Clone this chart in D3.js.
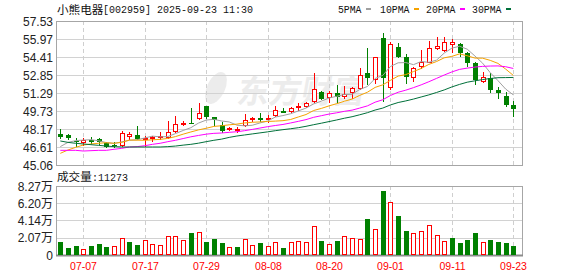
<!DOCTYPE html>
<html>
<head>
<meta charset="utf-8">
<title>小熊电器 K线</title>
<script src="https://cdn.jsdelivr.net/npm/d3@7"></script>
<style>
  body { margin: 0; background: #fff; }
  svg { display: block; }
</style>
</head>
<body>
<svg width="578" height="276" id="mainsvg"></svg>
<script>
// trading days shown on the chart (2025-07-02 .. 2025-09-23)
const DATES = [
  '07-02','07-03','07-04','07-07','07-08','07-09','07-10','07-11','07-14','07-15',
  '07-16','07-17','07-18','07-21','07-22','07-23','07-24','07-25','07-28','07-29',
  '07-30','07-31','08-01','08-04','08-05','08-06','08-07','08-08','08-11','08-12',
  '08-13','08-14','08-15','08-18','08-19','08-20','08-21','08-22','08-25','08-26',
  '08-27','08-28','08-29','09-01','09-02','09-03','09-04','09-05','09-08','09-09',
  '09-10','09-11','09-12','09-15','09-16','09-17','09-18','09-19','09-22','09-23'
];
const OPEN = [
  47.74,47.66,47.14,46.99,47.22,47.31,46.96,46.82,46.71,47.48,
  47.63,47.20,47.31,47.37,47.43,47.95,48.64,48.72,49.01,50.17,
  49.22,48.49,48.09,48.03,48.44,48.96,49.10,48.96,49.30,49.73,
  49.68,50.05,50.11,50.49,51.41,50.83,51.27,50.98,51.27,51.61,
  53.05,52.40,56.03,51.75,55.31,54.38,52.56,53.58,53.92,55.10,
  54.95,55.42,55.50,54.79,53.86,52.27,52.62,51.55,51.03,50.26
];
const HIGH = [
  48.21,47.74,47.43,47.37,47.48,47.43,47.08,47.02,47.97,47.94,
  48.44,47.57,47.60,47.89,48.87,49.30,48.90,50.00,50.46,50.20,
  49.22,48.78,48.38,48.38,49.48,49.24,49.59,49.36,50.17,50.02,
  50.05,50.40,50.51,53.05,51.44,51.50,52.00,51.90,51.84,53.43,
  55.16,54.44,56.46,55.74,55.60,54.70,53.58,55.02,55.82,56.17,
  56.17,55.95,55.60,54.87,54.00,53.14,53.00,51.84,51.41,50.60
];
const LOW = [
  47.31,47.22,46.65,46.73,46.85,46.79,46.50,46.56,46.65,47.22,
  47.22,46.60,47.08,47.22,47.31,47.80,48.44,48.64,48.96,49.01,
  48.44,47.86,47.97,47.86,48.38,48.81,48.75,48.67,49.24,49.59,
  49.59,49.76,49.97,50.40,50.69,50.45,50.45,50.75,50.75,51.55,
  51.99,52.10,50.50,51.55,54.30,52.10,52.27,53.34,53.86,55.02,
  54.87,54.80,54.44,53.58,51.99,52.13,51.27,50.75,50.05,49.24
];
const CLOSE = [
  47.46,47.43,47.05,47.22,47.08,47.02,46.62,46.71,47.86,47.77,
  47.31,47.37,47.48,47.57,47.89,48.58,48.72,48.69,49.59,49.19,
  48.93,47.97,48.29,48.15,48.93,49.16,48.96,49.16,49.82,49.59,
  49.97,50.17,50.40,51.64,50.75,51.32,50.92,51.21,51.70,52.85,
  52.62,54.38,52.57,55.54,54.44,52.70,53.49,53.95,55.16,55.39,
  55.74,55.68,54.73,53.92,52.42,52.65,51.55,51.32,50.26,49.88
];
const PREV_CLOSE = 47.60; // close of the day before the first bar
// volume, unit 万 (10k shares)
const VOLUME = [
  1.50,0.87,1.10,0.72,1.10,1.35,1.00,1.10,2.03,1.59,
  1.23,1.79,1.35,1.23,2.27,2.27,1.79,2.66,2.74,1.59,
  1.95,1.47,0.95,1.00,1.90,1.20,1.47,1.10,1.55,0.87,
  1.55,1.67,1.59,3.46,1.71,1.31,1.71,2.27,2.03,1.91,
  4.33,3.10,7.67,6.32,4.69,2.90,2.63,2.86,3.58,2.39,
  1.67,2.06,1.47,1.83,2.66,1.55,1.83,1.59,1.47,1.13
];
const MA5 = [
  46.65,47.02,47.17,47.22,47.25,47.16,47.00,46.93,47.06,47.20,
  47.25,47.40,47.56,47.50,47.52,47.78,48.05,48.29,48.69,48.95,
  49.02,48.87,48.79,48.51,48.45,48.50,48.70,48.87,49.21,49.34,
  49.50,49.74,49.99,50.35,50.59,50.86,51.01,51.17,51.18,51.60,
  51.86,52.55,52.82,53.59,53.91,53.93,53.75,54.02,53.95,54.14,
  54.75,55.18,55.34,55.09,54.50,53.88,53.05,52.37,51.64,51.13
];
const MA10 = [
  46.07,46.36,46.59,46.79,46.88,46.94,46.99,46.94,47.02,47.22,
  47.21,47.20,47.24,47.28,47.36,47.52,47.73,47.92,48.10,48.24,
  48.40,48.46,48.54,48.60,48.70,48.76,48.79,48.83,48.86,48.90,
  49.00,49.22,49.43,49.78,49.96,50.18,50.37,50.58,50.77,51.09,
  51.36,51.78,52.00,52.39,52.76,52.89,53.15,53.42,53.77,54.02,
  54.34,54.47,54.68,54.52,54.32,54.31,54.12,53.86,53.37,52.82
];
const MA20 = [
  46.33,46.33,46.33,46.27,46.30,46.33,46.33,46.42,46.50,46.62,
  46.65,46.73,46.85,46.94,47.08,47.20,47.35,47.50,47.62,47.73,
  47.80,47.83,47.89,47.94,48.03,48.14,48.26,48.38,48.48,48.57,
  48.70,48.84,48.99,49.19,49.33,49.47,49.58,49.71,49.81,49.99,
  50.18,50.50,50.71,51.08,51.36,51.54,51.76,52.00,52.27,52.56,
  52.85,53.12,53.34,53.45,53.54,53.60,53.63,53.64,53.57,53.42
];
const MA30 = [
  47.14,47.02,46.94,46.88,46.82,46.76,46.70,46.65,46.62,46.62,
  46.62,46.62,46.62,46.62,46.65,46.70,46.78,46.85,46.95,47.08,
  47.20,47.30,47.45,47.57,47.66,47.75,47.84,47.93,48.03,48.12,
  48.20,48.29,48.41,48.55,48.68,48.82,48.96,49.11,49.24,49.41,
  49.59,49.82,49.99,50.26,50.47,50.61,50.77,50.95,51.13,51.34,
  51.56,51.82,52.04,52.23,52.35,52.46,52.55,52.62,52.63,52.64
];
const PRICE_TICKS = [45.06, 46.61, 48.17, 49.73, 51.29, 52.85, 54.41, 55.97, 57.53];
const VOL_TICKS = [0, 2.07, 4.14, 6.20, 8.27];
const DATE_TICKS = ['07-07','07-17','07-29','08-08','08-20','09-01','09-11','09-23'];
const MA_SERIES = [
  {name: '5PMA', values: MA5, color: '#a0a0a0'},
  {name: '10PMA', values: MA10, color: '#f5a200'},
  {name: '20PMA', values: MA20, color: '#ff00ff'},
  {name: '30PMA', values: MA30, color: '#00703a'}
];

const svg = d3.select('svg');
const RED = '#ff0000', GREEN = '#008000';
const box = {left: 56, right: 522, top: 21, bottom: 165};
const vbox = {left: 56, right: 522, top: 186, bottom: 255};
const CJK = '"Noto Sans CJK SC", sans-serif';
const MONO = '"Liberation Mono", "DejaVu Sans Mono", monospace';
const SANS = '"Liberation Sans", Arial, sans-serif';

const x = d3.scalePoint().domain(DATES).range([60.3, 513.3]);
const y = d3.scaleLinear().domain([45.06, 57.53]).range([box.bottom, box.top]);
const yv = d3.scaleLinear().domain([0, 8.27]).range([vbox.bottom, vbox.top]);
const px = d => Math.round(x(d)) + 0.5;

// watermark
const wm = svg.append('g').attr('fill', '#ececec');
wm.append('ellipse').attr('cx', 216).attr('cy', 88).attr('rx', 9).attr('ry', 17)
  .attr('transform', 'rotate(25,216,88)');
wm.append('text').attr('x', 236).attr('y', 103)
  .attr('font-family', CJK).attr('font-weight', 'bold').attr('font-size', 32)
  .attr('transform', 'skewX(-10) translate(18,0)')
  .text('东方财富');

// grid
function grid(ticks, scale, b) {
  const g = svg.append('g');
  g.selectAll('.h').data(ticks).join('line')
    .attr('x1', b.left).attr('x2', b.right)
    .attr('y1', d => Math.round(scale(d)) + 0.5).attr('y2', d => Math.round(scale(d)) + 0.5)
    .attr('stroke', '#d2d2d2');
  g.selectAll('.v').data(DATE_TICKS).join('line')
    .attr('x1', px).attr('x2', px).attr('y1', b.top).attr('y2', b.bottom)
    .attr('stroke', '#cfcfcf').attr('stroke-dasharray', '4,3');
  g.append('rect').attr('x', b.left + 0.5).attr('y', b.top + 0.5)
    .attr('width', b.right - b.left).attr('height', b.bottom - b.top)
    .attr('fill', 'none').attr('stroke', '#a6a6a6');
}
grid(PRICE_TICKS, y, box);
grid(VOL_TICKS, yv, vbox);
svg.append('line').attr('x1', vbox.left).attr('x2', vbox.right + 1)
  .attr('y1', vbox.bottom + 0.5).attr('y2', vbox.bottom + 0.5)
  .attr('stroke', '#8c8c8c').attr('stroke-width', 2);

// axis labels
svg.append('g').selectAll('text').data(PRICE_TICKS).join('text')
  .attr('x', 53).attr('y', d => y(d) + 4.5).attr('text-anchor', 'end')
  .attr('font-family', SANS).attr('font-size', 12).attr('fill', '#222')
  .text(d => d.toFixed(2));
const vl = svg.append('g').selectAll('text').data(VOL_TICKS).join('text')
  .attr('x', 53).attr('y', d => yv(d) + 4.5).attr('text-anchor', 'end')
  .attr('font-family', SANS).attr('font-size', 12).attr('fill', '#222');
vl.append('tspan').text(d => d === 0 ? '0' : d.toFixed(2));
vl.append('tspan').attr('font-family', CJK).text(d => d === 0 ? '' : '万');
svg.append('g').selectAll('text').data(DATE_TICKS).join('text')
  .attr('x', px).attr('y', 270).attr('text-anchor', 'middle')
  .attr('font-family', SANS).attr('font-size', 10.5).attr('fill', RED)
  .text(d => d);

// title and legend
svg.append('text').attr('x', 57).attr('y', 14).attr('font-family', CJK).attr('font-size', 11.6)
  .attr('fill', '#111').text('小熊电器');
svg.append('text').attr('x', 103).attr('y', 13).attr('font-family', MONO).attr('font-size', 11)
  .attr('fill', '#111').attr('textLength', 150).attr('lengthAdjust', 'spacingAndGlyphs')
  .text('[002959] 2025-09-23 11:30');
const legX = [338, 380, 426, 472];
const leg = svg.append('g').selectAll('g').data(MA_SERIES).join('g')
  .attr('transform', (d, i) => `translate(${legX[i]},0)`);
leg.append('text').attr('x', 0).attr('y', 12.5).attr('font-family', MONO).attr('font-size', 11)
  .attr('fill', '#111').attr('textLength', d => d.name.length * 6 - 0.5)
  .attr('lengthAdjust', 'spacingAndGlyphs').text(d => d.name);
leg.append('rect').attr('x', d => d.name.length * 6 + 4).attr('y', 8).attr('width', 5).attr('height', 2)
  .attr('fill', d => d.color);

svg.append('text').attr('x', 57).attr('y', 181).attr('font-family', CJK).attr('font-size', 11.6)
  .attr('fill', '#111').text('成交量');
svg.append('text').attr('x', 92).attr('y', 181).attr('font-family', MONO).attr('font-size', 11)
  .attr('fill', '#111').attr('textLength', 36).attr('lengthAdjust', 'spacingAndGlyphs')
  .text(':11273');

// candles
const idx = d3.range(DATES.length);
const candle = svg.append('g').selectAll('g').data(idx).join('g');
candle.each(function (i) {
  const g = d3.select(this);
  const cx = px(DATES[i]);
  const up = CLOSE[i] >= OPEN[i];
  const top = Math.round(y(Math.max(OPEN[i], CLOSE[i])));
  const bot = Math.round(y(Math.min(OPEN[i], CLOSE[i])));
  const hi = Math.round(y(HIGH[i])), lo = Math.round(y(LOW[i]));
  if (up) {
    g.append('line').attr('x1', cx).attr('x2', cx).attr('y1', hi).attr('y2', top).attr('stroke', RED);
    g.append('line').attr('x1', cx).attr('x2', cx).attr('y1', bot).attr('y2', lo).attr('stroke', RED);
    g.append('rect').attr('x', cx - 2).attr('y', top + 0.5).attr('width', 4)
      .attr('height', Math.max(1, bot - top - 1)).attr('fill', '#fff').attr('stroke', RED);
  } else {
    g.append('line').attr('x1', cx).attr('x2', cx).attr('y1', hi).attr('y2', lo).attr('stroke', GREEN);
    g.append('rect').attr('x', cx - 2.5).attr('y', top).attr('width', 5)
      .attr('height', Math.max(1, bot - top)).attr('fill', GREEN);
  }
});

// moving averages
const line = d3.line().x((v, i) => x(DATES[i])).y(v => y(v));
svg.append('g').selectAll('path').data(MA_SERIES).join('path')
  .attr('d', d => line(d.values)).attr('fill', 'none')
  .attr('stroke', d => d.color).attr('stroke-width', 1);

// volume bars: colour follows close vs previous close
svg.append('g').selectAll('rect').data(idx).join('rect')
  .each(function (i) {
    const up = CLOSE[i] >= (i ? CLOSE[i - 1] : PREV_CLOSE);
    const cx = px(DATES[i]);
    const t = Math.round(yv(VOLUME[i]));
    const r = d3.select(this);
    if (up) {
      r.attr('x', cx - 2).attr('y', t + 0.5).attr('width', 4).attr('height', vbox.bottom - t - 1)
        .attr('fill', '#fff').attr('stroke', RED);
    } else {
      r.attr('x', cx - 2.5).attr('y', t).attr('width', 5).attr('height', vbox.bottom - t)
        .attr('fill', GREEN);
    }
  });
</script>
</body>
</html>
